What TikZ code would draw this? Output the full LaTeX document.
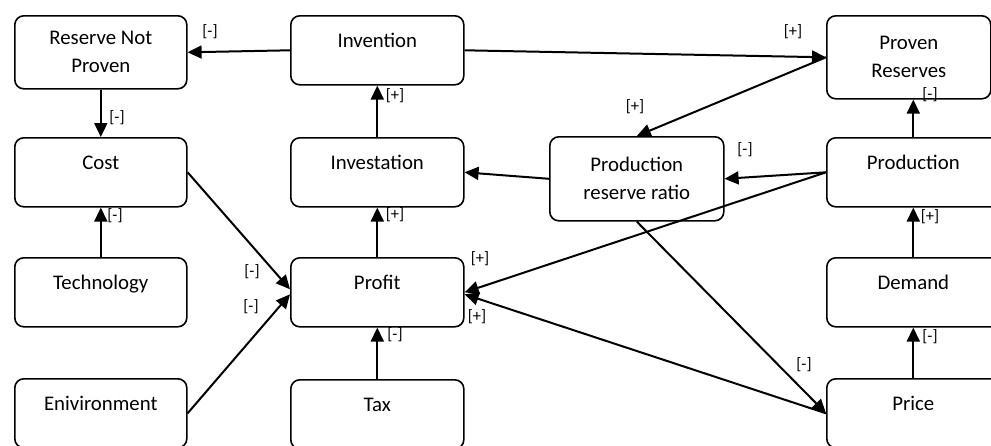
\documentclass[tikz,border=0pt]{standalone}
\usepackage{fontspec}
\setmainfont{Carlito}
\usetikzlibrary{arrows.meta}

\tikzset{
    box/.style={draw, rounded corners=9pt, line width=1.6pt, inner sep=0pt, anchor=north west,
        font=\fontsize{20.8}{28}\selectfont},
    onebox/.style={box, minimum width=173pt, text height=31.5pt, text depth=37.5pt},
    twobox/.style={box, minimum width=173pt, align=center},
    link/.style={line width=2pt, -{Triangle[length=14pt,width=13pt]}},
    sign/.style={font=\fontsize{16.5}{18}\selectfont, inner sep=0pt}
}

\begin{document}
\begin{tikzpicture}[x=1pt, y=-1pt]
    \useasboundingbox (0,0) rectangle (991,445);
    \clip (0,0) rectangle (991,445);

    \node[twobox, minimum width=172pt, minimum height=73pt] (rnp) at (14,15) {Reserve Not\\Proven};
    \node[onebox] (inv) at (290,15) {Invention};
    \node[twobox, minimum width=164pt, minimum height=83pt] (pr) at (826,15) {Proven\\Reserves};
    \node[onebox, minimum width=172pt] (cost) at (14,137) {Cost};
    \node[onebox] (invest) at (290,137) {Investation};
    \node[twobox, minimum width=174pt, minimum height=84pt] (prr) at (549,136) {Production\\reserve ratio};
    \node[onebox] (prod) at (826,137) {Production};
    \node[onebox, minimum width=172pt] (tech) at (14,257) {Technology};
    \node[onebox] (profit) at (290,257) {Profit};
    \node[onebox] (demand) at (826,257) {Demand};
    \node[onebox, minimum width=172pt] (env) at (14,378) {Enivironment};
    \node[onebox] (tax) at (290,379) {Tax};
    \node[onebox] (price) at (826,378) {Price};

    \draw[link] (inv.west) -- (rnp.east);
    \draw[link] (inv.east) -- (pr.west);
    \draw[link] (pr.west) -- (prr.north);
    \draw[link] (rnp.south) -- (cost.north);
    \draw[link] (tech.north) -- (cost.south);
    \draw[link] (invest.north) -- (inv.south);
    \draw[link] (profit.north) -- (invest.south);
    \draw[link] (tax.north) -- (profit.south);
    \draw[link] (cost.east) -- ([yshift=3pt]profit.west);
    \draw[link] (env.east) -- ([yshift=-2pt]profit.west);
    \draw[link] (prr.west) -- (invest.east);
    \draw[link] (prod.west) -- (prr.east);
    \draw[link] (prod.west) -- (profit.east);
    \draw[link] (price.west) -- ([yshift=-2pt]profit.east);
    \draw[link] (prr.south) -- (price.west);
    \draw[link] (prod.north) -- (prod.north |- pr.south);
    \draw[link] (demand.north) -- (prod.south);
    \draw[link] (price.north) -- (demand.south);

    \node[sign] (s1) at (210,32) {[-]};
    \node[sign] (s2) at (793,32) {[+]};
    \node[sign] (s3) at (635,107) {[+]};
    \node[sign] (s4) at (117,118) {[-]};
    \node[sign] (s5) at (115,216) {[-]};
    \node[sign] (s6) at (395,96) {[+]};
    \node[sign] (s7) at (395,215) {[+]};
    \node[sign] (s8) at (395,335) {[-]};
    \node[sign] (s9) at (252,272) {[-]};
    \node[sign] (s10) at (251,307) {[-]};
    \node[sign] (s11) at (480,259) {[+]};
    \node[sign] (s12) at (477,317) {[+]};
    \node[sign] (s13) at (745,150) {[-]};
    \node[sign] (s14) at (804,365) {[-]};
    \node[sign] (s15) at (930,95) {[-]};
    \node[sign] (s16) at (930,217) {[+]};
    \node[sign] (s17) at (930,337) {[-]};
\end{tikzpicture}
\end{document}
